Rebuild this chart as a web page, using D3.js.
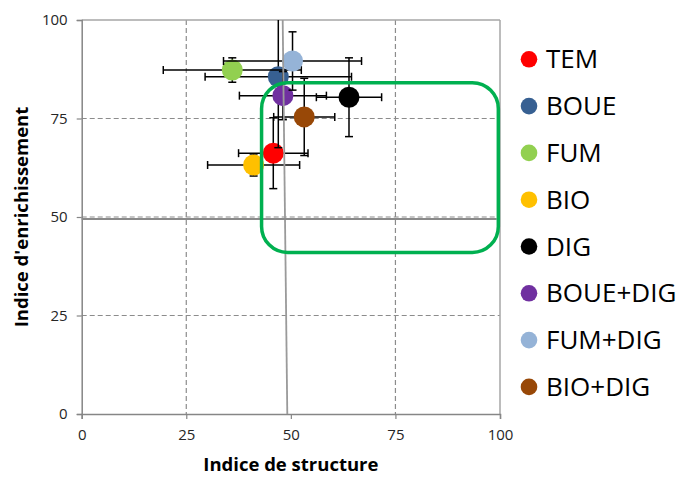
<!DOCTYPE html>
<html>
<head>
<meta charset="utf-8">
<script src="https://cdn.jsdelivr.net/npm/d3@7"></script>
<style>
  html, body { margin: 0; padding: 0; background: #fff; }
  svg { display: block; }
  text { font-family: "Open Sans", sans-serif; }
</style>
</head>
<body>
<svg id="chart" width="679" height="477"></svg>
<script>
// ---- data ----
const categories = ["TEM", "BOUE", "FUM", "BIO", "DIG", "BOUE+DIG", "FUM+DIG", "BIO+DIG"];
const colors = ["#FF0000", "#376092", "#92D050", "#FFC000", "#000000", "#7030A0", "#95B3D7", "#984807"];
const structureIndex = [45.8, 47.0, 36.0, 41.1, 63.9, 48.1, 50.4, 53.2];
const enrichmentIndex = [66.2, 85.6, 87.3, 63.2, 80.4, 80.8, 89.6, 75.4];
const structureError = [8.3, 17.5, 16.5, 11.0, 7.8, 10.4, 16.5, 7.3];
const enrichmentError = [9.0, 18.0, 3.1, 2.8, 10.0, 6.1, 7.4, 9.8];
const xTicks = [0, 25, 50, 75, 100];
const yTicks = [0, 25, 50, 75, 100];
const xGrid = [25, 75];
const yGrid = [25, 50, 75];
// reference lines drawn on the chart (data coords)
const vRefLine = [[48.05, 100], [49.15, 0]];
const hRefLine = [[0, 49.5], [99.2, 49.5]];
// highlighted zone (data coords): [xMin, xMax, yMin, yMax]
const zone = [43.0, 99.6, 41.0, 84.1];

// ---- layout ----
const svg = d3.select("#chart");
const L = 81.7, R = 500, T = 20, B = 414;
const x = d3.scaleLinear().domain([0, 100]).range([L, R]);
const y = d3.scaleLinear().domain([0, 100]).range([B, T]);
const axisColor = "#868686";

// grid
svg.append("g").selectAll("line").data(xGrid).join("line")
  .attr("x1", d => x(d)).attr("x2", d => x(d)).attr("y1", T).attr("y2", B)
  .attr("stroke", "#8c8c8c").attr("stroke-width", 1.2).attr("stroke-dasharray", "5,3");
svg.append("g").selectAll("line").data(yGrid).join("line")
  .attr("x1", L).attr("x2", R).attr("y1", d => y(d)).attr("y2", d => y(d))
  .attr("stroke", "#8c8c8c").attr("stroke-width", 1.2).attr("stroke-dasharray", "5,3");

// plot border top/right
svg.append("line").attr("x1", L).attr("x2", R).attr("y1", T).attr("y2", T)
  .attr("stroke", "#a6a6a6").attr("stroke-width", 1.5);
svg.append("line").attr("x1", R).attr("x2", R).attr("y1", T).attr("y2", B)
  .attr("stroke", "#a6a6a6").attr("stroke-width", 1.5);

// axes
const xAxis = svg.append("g").attr("transform", `translate(0,${B})`)
  .call(d3.axisBottom(x).tickValues(xTicks).tickSize(5).tickPadding(10).tickFormat(d3.format("d")));
const yAxis = svg.append("g").attr("transform", `translate(${L},0)`)
  .call(d3.axisLeft(y).tickValues(yTicks).tickSize(5).tickPadding(9).tickFormat(d3.format("d")));
[xAxis, yAxis].forEach(a => {
  a.select(".domain").attr("stroke", axisColor).attr("stroke-width", 1.5);
  a.selectAll(".tick line").attr("stroke", axisColor).attr("stroke-width", 1.2);
  a.selectAll(".tick text").attr("font-family", "'Open Sans', sans-serif")
    .attr("font-size", 15).attr("fill", "#262626");
});

// series: error bars then marker
const cap = 4;
categories.forEach((c, i) => {
  const g = svg.append("g");
  const cx = x(structureIndex[i]), cy = y(enrichmentIndex[i]);
  const x0 = x(structureIndex[i] - structureError[i]), x1 = x(structureIndex[i] + structureError[i]);
  const y0 = Math.max(T, y(enrichmentIndex[i] + enrichmentError[i]));
  const y1 = y(enrichmentIndex[i] - enrichmentError[i]);
  const topClipped = y(enrichmentIndex[i] + enrichmentError[i]) < T;
  const s = { stroke: "#000", "stroke-width": 1.5 };
  const ln = (a, b, c2, d) => { const l = g.append("line").attr("x1", a).attr("y1", b).attr("x2", c2).attr("y2", d); Object.entries(s).forEach(([k, v]) => l.attr(k, v)); };
  ln(x0, cy, x1, cy);
  ln(x0, cy - cap, x0, cy + cap);
  ln(x1, cy - cap, x1, cy + cap);
  ln(cx, y0, cx, y1);
  if (!topClipped) ln(cx - cap, y0, cx + cap, y0);
  ln(cx - cap, y1, cx + cap, y1);
  g.append("circle").attr("cx", cx).attr("cy", cy).attr("r", 10.5).attr("fill", colors[i]);
});

// reference lines
const line = d3.line().x(d => x(d[0])).y(d => y(d[1]));
svg.append("path").attr("d", line(vRefLine)).attr("stroke", "#9a9a9a").attr("stroke-width", 1.8).attr("fill", "none");
svg.append("path").attr("d", line(hRefLine)).attr("stroke", "#8a8a8a").attr("stroke-width", 2).attr("fill", "none");

// highlighted zone
svg.append("rect")
  .attr("x", x(zone[0])).attr("y", y(zone[3]))
  .attr("width", x(zone[1]) - x(zone[0])).attr("height", y(zone[2]) - y(zone[3]))
  .attr("rx", 26).attr("ry", 26)
  .attr("fill", "none").attr("stroke", "#00B050").attr("stroke-width", 3.5);

// axis titles
svg.append("text").attr("x", x(50)).attr("y", 471).attr("text-anchor", "middle")
  .attr("font-size", 18.5).attr("font-weight", "bold").attr("fill", "#000")
  .text("Indice de structure");
svg.append("text").attr("transform", `translate(28,${(T + B) / 2}) rotate(-90)`)
  .attr("text-anchor", "middle")
  .attr("font-size", 18.5).attr("font-weight", "bold").attr("fill", "#000")
  .text("Indice d'enrichissement");

// legend
const leg = svg.append("g").selectAll("g").data(categories).join("g")
  .attr("transform", (d, i) => `translate(529,${59.3 + i * 46.8})`);
leg.append("circle").attr("r", 8.3).attr("fill", (d, i) => colors[i]);
leg.append("text").attr("x", 17).attr("dy", "0.35em").attr("font-size", 26)
  .attr("fill", "#000").text(d => d);
</script>
</body>
</html>
